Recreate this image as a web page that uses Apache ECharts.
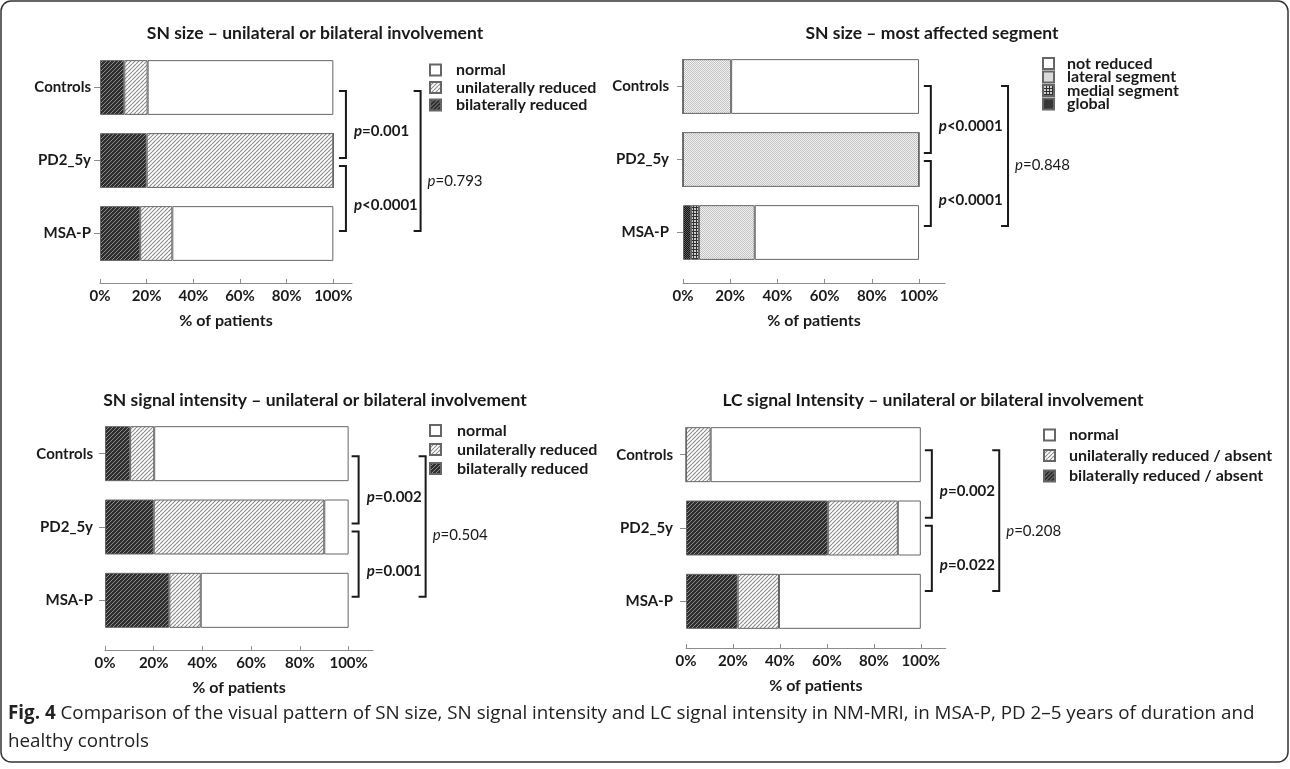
<!DOCTYPE html>
<html><head><meta charset="utf-8">
<script src="https://cdn.jsdelivr.net/npm/echarts@6/dist/echarts.min.js"></script>
<style>html,body{margin:0;padding:0;background:#fff}#c{width:1290px;height:769px}</style>
</head><body><div id="c"></div>
<script>
// ---------------- DATA ----------------
const categories = ['Controls', 'PD2_5y', 'MSA-P'];
const xTicks = [0, 20, 40, 60, 80, 100];

// Panel A: SN size – unilateral or bilateral involvement
const aBilateral  = [10.4, 20.0, 17.2];
const aUnilateral = [10.0, 80.0, 13.8];
const aNormal     = [79.6,  0.0, 69.0];
const aPvalues    = ['=0.001', '<0.0001', '=0.793'];

// Panel B: SN size – most affected segment
const bGlobal     = [0, 0, 3.4];
const bMedial     = [0, 0, 3.4];
const bLateral    = [20.4, 100, 23.6];
const bNotReduced = [79.6, 0, 69.6];
const bPvalues    = ['<0.0001', '<0.0001', '=0.848'];

// Panel C: SN signal intensity – unilateral or bilateral involvement
const cBilateral  = [10.3, 20.0, 26.4];
const cUnilateral = [ 9.9, 70.0, 12.9];
const cNormal     = [79.8, 10.0, 60.7];
const cPvalues    = ['=0.002', '=0.001', '=0.504'];

// Panel D: LC signal intensity – unilateral or bilateral involvement
const dBilateral  = [ 0.0, 60.4, 22.0];
const dUnilateral = [10.5, 29.8, 17.6];
const dNormal     = [89.5,  9.8, 60.4];
const dPvalues    = ['=0.002', '=0.022', '=0.208'];

const titles = [
  'SN size \u2013 unilateral or bilateral involvement',
  'SN size \u2013 most affected segment',
  'SN signal intensity \u2013 unilateral or bilateral involvement',
  'LC signal Intensity \u2013 unilateral or bilateral involvement'
];
const captionBold = 'Fig. 4';
const captionLine1 = ' Comparison of the visual pattern of SN size, SN signal intensity and LC signal intensity in NM-MRI, in MSA-P, PD 2\u20135 years of duration and';
const captionLine2 = 'healthy controls';

// ---------------- STYLE ----------------
const F = 'Lato, "Open sans", sans-serif';
const TXT = '#1a1a1a';
const AX = '#8c8c8c';

function pat(size, bg, draw) {
  const c = document.createElement('canvas');
  c.width = c.height = size;
  const g = c.getContext('2d');
  g.fillStyle = bg; g.fillRect(0, 0, size, size);
  draw(g, size);
  return { image: c, repeat: 'repeat' };
}
function hatch(bg, fg, lw) {
  return pat(4, bg, (g, s) => {
    g.strokeStyle = fg; g.lineWidth = lw; g.beginPath();
    for (let k = -1; k <= 1; k++) { g.moveTo(k * s, s); g.lineTo(k * s + s, 0); }
    g.stroke();
  });
}
const P_DARK = hatch('#2e2e2e', '#8a8a8a', 1);
const P_LIGHT = hatch('#ffffff', '#8f8f8f', 1.2);
const P_WHITE = '#ffffff';
const P_LATERAL = pat(2, '#f0f0f0', (g) => { g.fillStyle = '#c4c4c4'; g.fillRect(0, 0, 1, 1); g.fillRect(1, 1, 1, 1); });
const P_MEDIAL = pat(3, '#d0d0d0', (g) => { g.fillStyle = '#303030'; g.fillRect(0, 0, 3, 1); g.fillRect(0, 0, 1, 3); });
const P_GLOBAL = pat(2, '#151515', (g) => { g.fillStyle = '#5a5a5a'; g.fillRect(0, 0, 1, 1); g.fillRect(1, 1, 1, 1); });

const panels = [
  { grid: { left: 100, top: 51, width: 252, height: 219 }, max: 108, off: 13, xIn: 105.4, xOut: 137.4, s: 1.5, outDy: 20, catMargin: 9,
    title: { x: 315, y: 33 },
    legend: { left: 429, top: 62, gap: 1.5, lh: 14, pad: 10 },
    series: [['bilaterally reduced', aBilateral, P_DARK], ['unilaterally reduced', aUnilateral, P_LIGHT], ['normal', aNormal, P_WHITE]],
    legendData: ['normal', 'unilaterally reduced', 'bilaterally reduced'], p: aPvalues },
  { grid: { left: 683, top: 50, width: 262, height: 219 }, max: 111, off: 14, xIn: 105.0, xOut: 137.7, s: -2.5, outDy: 9, catMargin: 14,
    title: { x: 932, y: 33 },
    legend: { left: 1042, top: 55.5, gap: -2.5, lh: 13, pad: 8 },
    series: [['global', bGlobal, P_GLOBAL], ['medial segment', bMedial, P_MEDIAL], ['lateral segment', bLateral, P_LATERAL], ['not reduced', bNotReduced, P_WHITE]],
    legendData: ['not reduced', 'lateral segment', 'medial segment', 'global'], p: bPvalues },
  { grid: { left: 105, top: 417, width: 268, height: 220 }, max: 110, off: 13, xIn: 104.1, xOut: 131.6, s: 0.5, outDy: 9, catMargin: 12,
    title: { x: 315, y: 400 },
    legend: { left: 429, top: 422.5, gap: 3, lh: 14, pad: 11 },
    series: [['bilaterally reduced', cBilateral, P_DARK], ['unilaterally reduced', cUnilateral, P_LIGHT], ['normal', cNormal, P_WHITE]],
    legendData: ['normal', 'unilaterally reduced', 'bilaterally reduced'], p: cPvalues },
  { grid: { left: 686, top: 418, width: 259.7, height: 220 }, max: 110.6, off: 10, xIn: 104.7, xOut: 133.4, s: -6.3, outDy: 10, catMargin: 13,
    title: { x: 933, y: 400 },
    legend: { left: 1043, top: 427, gap: 4.5, lh: 14, pad: 9 },
    series: [['bilaterally reduced / absent', dBilateral, P_DARK], ['unilaterally reduced / absent', dUnilateral, P_LIGHT], ['normal', dNormal, P_WHITE]],
    legendData: ['normal', 'unilaterally reduced / absent', 'bilaterally reduced / absent'], p: dPvalues }
];

const option = { animation: false, grid: [], xAxis: [], yAxis: [], series: [], legend: [], graphic: [] };

panels.forEach((pn, i) => {
  option.grid.push(Object.assign({ containLabel: false }, pn.grid));
  option.xAxis.push({
    gridIndex: i, type: 'value', min: 0, max: pn.max, offset: pn.off, position: 'bottom',
    axisLine: { show: true, lineStyle: { color: AX, width: 1 } },
    axisTick: { show: true, inside: true, length: 4, customValues: xTicks, lineStyle: { color: AX } },
    axisLabel: { customValues: xTicks, formatter: '{value}%', color: TXT, fontWeight: 'bold', fontSize: 15, fontFamily: F, margin: 6 },
    splitLine: { show: false },
    name: '% of patients', nameLocation: 'middle', nameGap: 30,
    nameTextStyle: { color: TXT, fontWeight: 'bold', fontSize: 16, fontFamily: F }
  });
  option.yAxis.push({
    gridIndex: i, type: 'category', data: categories, inverse: true,
    axisLine: { show: false },
    axisTick: { show: true, alignWithLabel: true, length: 6, lineStyle: { color: AX } },
    axisLabel: { color: TXT, fontWeight: 'bold', fontSize: 15, fontFamily: F, margin: pn.catMargin },
    splitLine: { show: false }
  });
  pn.series.forEach(([name, data, color]) => {
    option.series.push({
      type: 'bar', name, data, stack: 'st' + i, xAxisIndex: i, yAxisIndex: i, barWidth: '75%',
      itemStyle: { color, borderColor: '#666', borderWidth: 1 },
      emphasis: { disabled: true }, silent: true
    });
  });
  const pv = pn.p;
  option.series.push({
    type: 'custom', xAxisIndex: i, yAxisIndex: i, clip: false, silent: true, z: 10,
    data: [[0, 1, pn.xIn, 0], [1, 2, pn.xIn, 1], [0, 2, pn.xOut, 2]],
    renderItem: (params, api) => {
      const c1 = api.value(0), c2 = api.value(1), x = api.value(2), k = api.value(3);
      const a = api.coord([x, c1]), b = api.coord([x, c2]);
      const px = a[0];
      const y1 = a[1] + pn.s + 2 + (c1 > 0 ? 2 : 0);
      const y2 = b[1] + pn.s - 4;
      const outer = k === 2;
      const bold = outer ? 'normal' : 'bold';
      return {
        type: 'group',
        children: [
          { type: 'polyline', shape: { points: [[px - 7, y1], [px, y1], [px, y2], [px - 7, y2]] },
            style: { stroke: '#1a1a1a', lineWidth: 2, fill: null } },
          { type: 'text', style: {
              text: '{i|p}{t|' + pv[k] + '}', x: px + (outer ? 7 : 8), y: (y1 + y2) / 2 + (outer ? pn.outDy : 7),
              verticalAlign: 'middle', align: 'left',
              rich: {
                i: { fontStyle: 'italic', fontWeight: bold, fontSize: 15, fontFamily: F, fill: TXT },
                t: { fontWeight: bold, fontSize: 15, fontFamily: F, fill: TXT }
              } } }
        ]
      };
    }
  });
  option.legend.push({
    orient: 'vertical', left: pn.legend.left, top: pn.legend.top, padding: 0,
    itemWidth: 11, itemHeight: 11, itemGap: pn.legend.gap, icon: 'rect', selectedMode: false,
    data: pn.legendData,
    textStyle: { color: TXT, fontWeight: 'bold', fontSize: 16, fontFamily: F, lineHeight: pn.legend.lh, padding: [0, 0, 0, pn.legend.pad] }
  });
  option.graphic.push({
    type: 'text', x: pn.title.x, y: pn.title.y, silent: true,
    style: { text: titles[i], align: 'center', verticalAlign: 'middle', fill: TXT, font: 'bold 17.5px ' + F }
  });
});

option.graphic.push({
  type: 'rect', silent: true, shape: { x: 1, y: 1, width: 1287, height: 761, r: 10 },
  style: { fill: null, stroke: '#333', lineWidth: 1.5 }
});
option.graphic.push({
  type: 'text', x: 8, y: 714, silent: true,
  style: { text: '{b|' + captionBold + '}{r|' + captionLine1 + '}', verticalAlign: 'middle', align: 'left',
    rich: { b: { fontWeight: 'bold', fontSize: 18.8, fontFamily: '"Open Sans", sans-serif', fill: '#222' },
            r: { fontSize: 18.8, fontFamily: '"Open Sans", sans-serif', fill: '#222' } } }
});
option.graphic.push({
  type: 'text', x: 8, y: 742, silent: true,
  style: { text: captionLine2, verticalAlign: 'middle', align: 'left', fill: '#222', font: '18.8px "Open Sans", sans-serif' }
});

const chart = echarts.init(document.getElementById('c'), null, { renderer: 'canvas' });
chart.setOption(option);
</script>
</body></html>
